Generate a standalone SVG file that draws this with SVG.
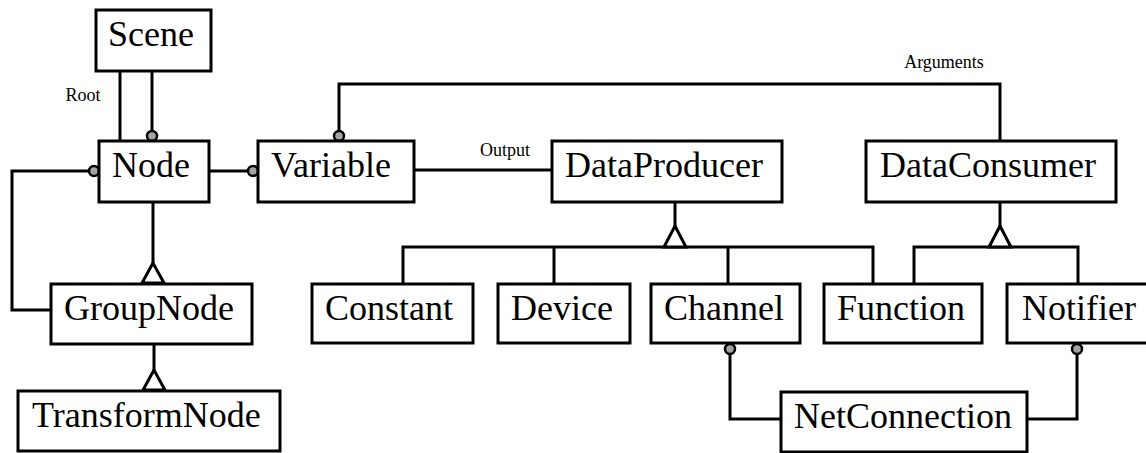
<svg xmlns="http://www.w3.org/2000/svg" width="1146" height="453" viewBox="0 0 1146 453">
<defs>
<style>
.box{fill:#fff;stroke:#000;stroke-width:3}
.t{font-family:"Liberation Serif","Times New Roman",serif;font-size:36px;fill:#000}
.lbl{font-family:"Liberation Serif","Times New Roman",serif;font-size:18px;fill:#000;text-anchor:middle}
.ln{fill:none;stroke:#000;stroke-width:3}
.dot{fill:#a3a3a3;stroke:#000;stroke-width:2.5}
.tri{fill:#fff;stroke:#000;stroke-width:3;stroke-linejoin:miter}
</style>
</defs>
<rect width="1146" height="453" fill="#fff"/>
<g id="connectors">
<!-- Scene - Node -->
<path class="ln" d="M120,71 V141"/>
<path class="ln" d="M152,71 V131"/>
<circle class="dot" cx="152" cy="136" r="5"/>
<text class="lbl" x="83" y="101">Root</text>
<!-- Node - Variable -->
<path class="ln" d="M209,171 H248"/>
<circle class="dot" cx="253" cy="171" r="5"/>
<!-- Node - GroupNode aggregation -->
<path class="ln" d="M89,171 H12 V310 H51"/>
<circle class="dot" cx="94" cy="171" r="5"/>
<!-- Node - GroupNode inheritance -->
<path class="ln" d="M153,202 V263"/>
<polygon class="tri" points="153,263 142,283 164,283"/>
<!-- GroupNode - TransformNode -->
<path class="ln" d="M154,344 V370"/>
<polygon class="tri" points="154,370 143,390 165,390"/>
<!-- Variable - DataConsumer Arguments -->
<path class="ln" d="M339,131 V84 H1000 V140"/>
<circle class="dot" cx="339" cy="136" r="5"/>
<text class="lbl" x="944" y="68">Arguments</text>
<!-- Variable - DataProducer Output -->
<path class="ln" d="M414,170 H552"/>
<text class="lbl" x="505" y="156">Output</text>
<!-- DataProducer inheritance -->
<path class="ln" d="M675,202 V226"/>
<path class="ln" d="M403,284 V247 H873 V284 M554,247 V284 M728,247 V284"/>
<polygon class="tri" points="675,226 664,247 686,247"/>
<!-- DataConsumer inheritance -->
<path class="ln" d="M1000,202 V226"/>
<path class="ln" d="M914,284 V247 H1078 V284"/>
<polygon class="tri" points="1000,226 989,247 1011,247"/>
<!-- NetConnection -->
<path class="ln" d="M730,354 V419 H781"/>
<circle class="dot" cx="730" cy="349" r="5"/>
<path class="ln" d="M1077,354 V419 H1027"/>
<circle class="dot" cx="1077" cy="349" r="5"/>
</g>
<g id="Scene"><rect class="box" x="96" y="10" width="115" height="61"/><text class="t" x="108" y="46">Scene</text></g>
<g id="Node"><rect class="box" x="99" y="141" width="110" height="61"/><text class="t" x="112" y="177">Node</text></g>
<g id="Variable"><rect class="box" x="258" y="141" width="156" height="61"/><text class="t" x="271" y="177">Variable</text></g>
<g id="DataProducer"><rect class="box" x="552" y="141" width="230" height="61"/><text class="t" x="565" y="177">DataProducer</text></g>
<g id="DataConsumer"><rect class="box" x="866" y="141" width="250" height="61"/><text class="t" x="880" y="177">DataConsumer</text></g>
<g id="GroupNode"><rect class="box" x="51" y="284" width="201" height="60"/><text class="t" x="64" y="320">GroupNode</text></g>
<g id="TransformNode"><rect class="box" x="18" y="391" width="262" height="60"/><text class="t" x="32" y="427">TransformNode</text></g>
<g id="Constant"><rect class="box" x="312" y="284" width="161" height="59"/><text class="t" x="325" y="320">Constant</text></g>
<g id="Device"><rect class="box" x="498" y="284" width="132" height="59"/><text class="t" x="511" y="320">Device</text></g>
<g id="Channel"><rect class="box" x="651" y="284" width="149" height="59"/><text class="t" x="664" y="320">Channel</text></g>
<g id="Function"><rect class="box" x="824" y="284" width="158" height="59"/><text class="t" x="837" y="320">Function</text></g>
<g id="Notifier"><rect class="box" x="1007" y="284" width="144" height="59"/><text class="t" x="1022" y="320">Notifier</text></g>
<g id="NetConnection"><rect class="box" x="781" y="392" width="246" height="60"/><text class="t" x="794" y="428">NetConnection</text></g>
</svg>
